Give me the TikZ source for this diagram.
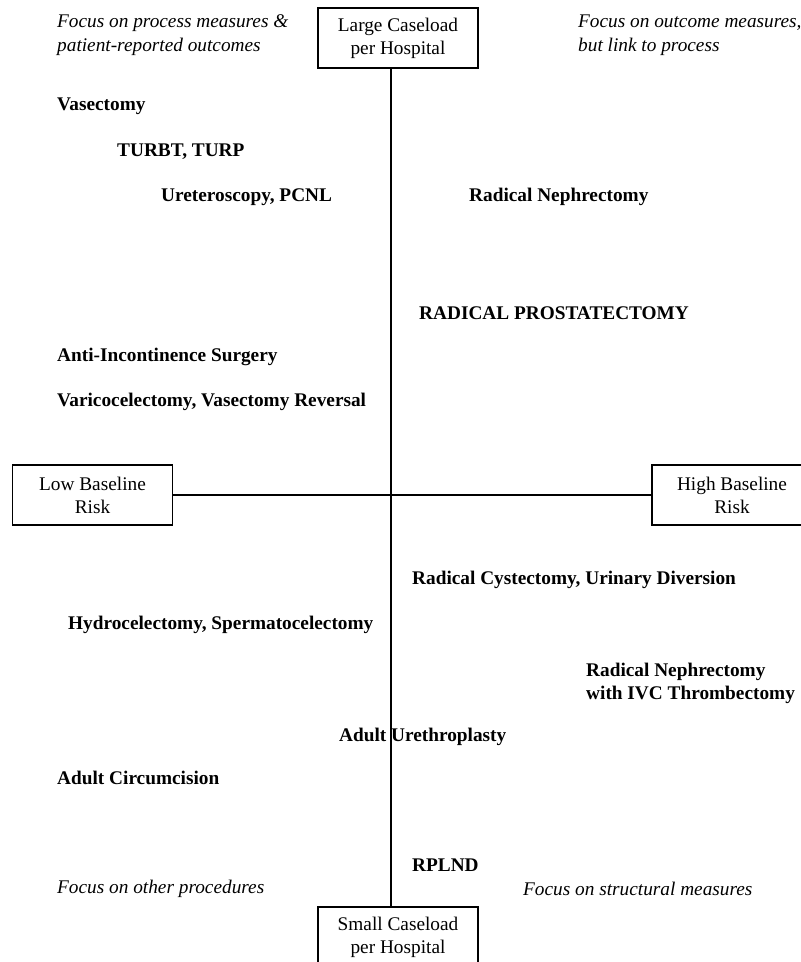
\documentclass[tikz,border=0pt]{standalone}
\usepackage{fontspec}
\setmainfont{Liberation Serif}
\begin{document}
\begin{tikzpicture}[x=1pt,y=-1pt,
  every node/.style={font=\fontsize{19.3}{23}\selectfont},
  boxn/.style={draw,line width=1.2pt,minimum width=160pt,minimum height=60pt,align=center,inner sep=0pt},
  axis/.style={line width=1.3pt},
  proc/.style={anchor=west,inner sep=0pt,font=\fontsize{19.3}{23}\selectfont\bfseries,align=left},
  note/.style={anchor=west,inner sep=0pt,font=\fontsize{19.3}{24}\selectfont\itshape,align=left}]
\useasboundingbox (0,0) rectangle (801,962);
\node[boxn] (top) at (398,38) {Large Caseload\\per Hospital};
\node[boxn] (bot) at (398,937) {Small Caseload\\per Hospital};
\node[boxn] (left) at (92.5,495) {Low Baseline\\Risk};
\node[boxn] (right) at (732,495) {High Baseline\\Risk};
\coordinate (vx) at (391,0);
\draw[axis] (top.south -| vx) -- (bot.north -| vx);
\draw[axis] (left.east) -- (right.west);
\node[note] (n1) at (57,35.5) {Focus on process measures \&\\patient-reported outcomes};
\node[note] (n2) at (578,35.5) {Focus on outcome measures,\\but link to process};
\node[note] (n3) at (57,889) {Focus on other procedures};
\node[note] (n4) at (523,889) {Focus on structural measures};
\node[proc] (p1) at (57,106) {Vasectomy};
\node[proc] (p2) at (117,152) {TURBT, TURP};
\node[proc] (p3) at (161,197) {Ureteroscopy, PCNL};
\node[proc] (p4) at (469,197) {Radical Nephrectomy};
\node[proc] (p5) at (419,313) {RADICAL PROSTATECTOMY};
\node[proc] (p6) at (57,357) {Anti-Incontinence Surgery};
\node[proc] (p7) at (57,402) {Varicocelectomy, Vasectomy Reversal};
\node[proc] (p8) at (412,580) {Radical Cystectomy, Urinary Diversion};
\node[proc] (p9) at (68,625) {Hydrocelectomy, Spermatocelectomy};
\node[proc] (p10) at (586,683) {Radical Nephrectomy\\with IVC Thrombectomy};
\node[proc] (p11) at (339,737) {Adult Urethroplasty};
\node[proc] (p12) at (57,778) {Adult Circumcision};
\node[proc] (p13) at (412,865) {RPLND};
\end{tikzpicture}
\end{document}
